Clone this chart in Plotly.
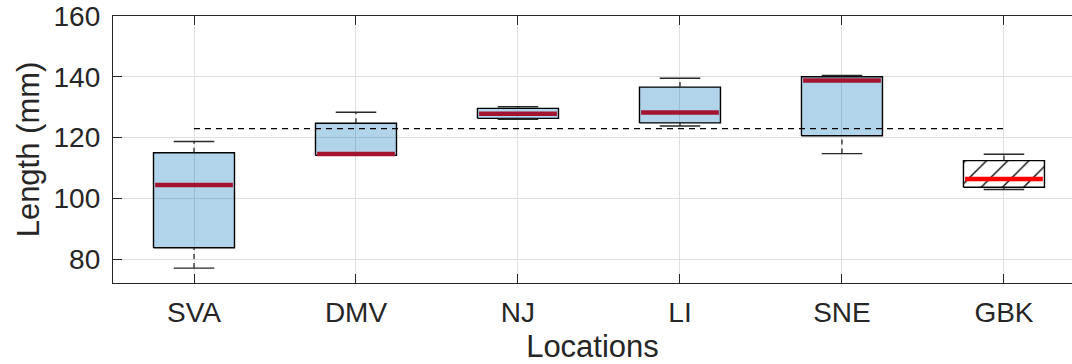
import plotly.graph_objects as go

categories = ["SVA", "DMV", "NJ", "LI", "SNE", "GBK"]
q1 = [83.7, 114.1, 126.3, 124.8, 120.6, 103.6]
median = [104.4, 114.6, 127.8, 128.2, 138.8, 106.3]
q3 = [115.0, 124.7, 129.6, 136.6, 140.0, 112.4]
lower = [77.0, 114.1, 126.0, 123.8, 114.7, 102.9]
upper = [118.7, 128.3, 130.1, 139.5, 140.4, 114.5]
overall_mean = 122.9
hatched = [False, False, False, False, False, True]

BOX_HALF = 0.25
CAP_HALF = 0.125
INK = "#262626"

fig = go.Figure()

for i, cat in enumerate(categories):
    x = i + 1
    xs = [x - BOX_HALF, x + BOX_HALF, x + BOX_HALF, x - BOX_HALF, x - BOX_HALF]
    ys = [q1[i], q1[i], q3[i], q3[i], q1[i]]
    if hatched[i]:
        fig.add_trace(go.Scatter(
            x=xs, y=ys, mode="lines", fill="toself",
            fillcolor="white",
            fillpattern=dict(shape="/", fgcolor="black", bgcolor="white",
                             fgopacity=1, size=15, solidity=0.09),
            line=dict(color="black", width=1.4), hoverinfo="skip"))
    else:
        fig.add_trace(go.Scatter(
            x=xs, y=ys, mode="lines", fill="toself",
            fillcolor="rgba(0,114,189,0.3)",
            line=dict(color="black", width=1.4), hoverinfo="skip"))
    # whiskers (dashed)
    fig.add_trace(go.Scatter(x=[x, x], y=[q3[i], upper[i]], mode="lines",
                             line=dict(color=INK, width=1.3, dash="5px,4px"), hoverinfo="skip"))
    fig.add_trace(go.Scatter(x=[x, x], y=[lower[i], q1[i]], mode="lines",
                             line=dict(color=INK, width=1.3, dash="5px,4px"), hoverinfo="skip"))
    # caps
    fig.add_trace(go.Scatter(x=[x - CAP_HALF, x + CAP_HALF], y=[upper[i], upper[i]], mode="lines",
                             line=dict(color=INK, width=1.4), hoverinfo="skip"))
    fig.add_trace(go.Scatter(x=[x - CAP_HALF, x + CAP_HALF], y=[lower[i], lower[i]], mode="lines",
                             line=dict(color=INK, width=1.4), hoverinfo="skip"))

# medians
for i in range(len(categories)):
    x = i + 1
    col = "#FF0000" if hatched[i] else "#A2142F"
    fig.add_trace(go.Scatter(x=[x - BOX_HALF + 0.01, x + BOX_HALF - 0.01], y=[median[i], median[i]],
                             mode="lines", line=dict(color=col, width=4.5), hoverinfo="skip"))

# overall mean dashed line
fig.add_trace(go.Scatter(x=[1, 6], y=[overall_mean, overall_mean], mode="lines",
                         line=dict(color="black", width=1.2, dash="6px,5px"), hoverinfo="skip"))

fig.update_layout(
    width=1072, height=364,
    margin=dict(l=113, r=0, t=16, b=81),
    paper_bgcolor="white", plot_bgcolor="white",
    showlegend=False,
    font=dict(family="Liberation Sans, Arial, sans-serif", color=INK, size=28),
)
fig.update_xaxes(
    range=[0.5, 6.42],
    tickvals=list(range(1, len(categories) + 1)), ticktext=categories,
    ticks="inside", ticklen=9, tickcolor=INK, tickwidth=1.3,
    showline=True, linecolor=INK, linewidth=1.3, mirror="allticks",
    showgrid=True, gridcolor="#DFDFDF", gridwidth=1,
    zeroline=False, automargin=False,
    tickfont=dict(size=28), ticklabelstandoff=4,
    title=dict(text="Locations", font=dict(size=31), standoff=19),
)
fig.update_yaxes(
    range=[72.1, 160],
    tickvals=[80, 100, 120, 140, 160],
    ticks="inside", ticklen=9, tickcolor=INK, tickwidth=1.3,
    showline=True, linecolor=INK, linewidth=1.3, mirror=False,
    showgrid=True, gridcolor="#DFDFDF", gridwidth=1,
    zeroline=False, automargin=False,
    tickfont=dict(size=28), ticklabelstandoff=6,
    title=dict(text="Length (mm)", font=dict(size=31), standoff=4),
)

fig.write_html("out.html")
